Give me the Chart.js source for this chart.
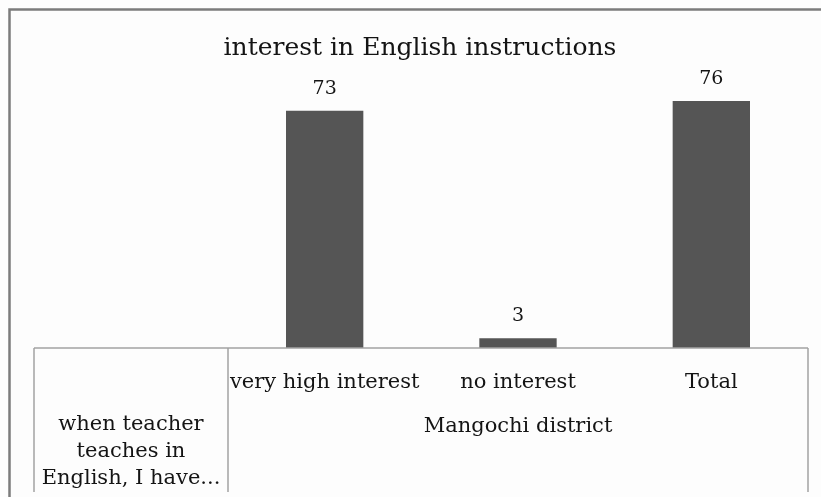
<!DOCTYPE html>
<html>
<head>
<meta charset="utf-8">
<script src="https://cdn.jsdelivr.net/npm/chart.js@4.4.0/dist/chart.umd.min.js"></script>
<style>
  html, body { margin: 0; padding: 0; background: #fff; overflow: hidden; }
  #wrap { width: 821px; height: 497px; }
</style>
</head>
<body>
<div id="wrap"><canvas id="grafico" width="821" height="497"></canvas></div>
<script>
// Datos del gráfico
const categorias = ['very high interest', 'no interest', 'Total'];
const valores = [73, 3, 76];
const titulo = 'interest in English instructions';
const grupo = 'Mangochi district';
const cabecera = ['when teacher', 'teaches in', 'English, I have...'];
const escalaY = [0, 80];

const fuente = '"DejaVu Serif", "Liberation Serif", serif';
const colorTexto = '#141414';

// Marco, tabla de abajo, título y etiquetas de valores
const marcoTabla = {
    id: 'marcoTabla',
    beforeDraw(chart) {
        const ctx = chart.ctx;
        ctx.save();
        ctx.fillStyle = '#fdfdfd';
        ctx.fillRect(0, 0, chart.width, chart.height);
        // borde exterior (se sale por la derecha y por abajo)
        ctx.strokeStyle = '#7c7c7c';
        ctx.lineWidth = 2.5;
        ctx.strokeRect(9.5, 9.5, chart.width + 20, chart.height + 20);
        // título
        ctx.fillStyle = colorTexto;
        ctx.font = '25px ' + fuente;
        ctx.textAlign = 'center';
        ctx.textBaseline = 'middle';
        ctx.fillText(titulo, 420, 48);
        ctx.restore();
    },
    afterDatasetsDraw(chart) {
        const ctx = chart.ctx;
        const meta = chart.getDatasetMeta(0);
        ctx.save();
        ctx.fillStyle = colorTexto;
        ctx.font = '19px ' + fuente;
        ctx.textAlign = 'center';
        ctx.textBaseline = 'middle';
        meta.data.forEach((bar, i) => {
            ctx.fillText(String(valores[i]), bar.x, bar.y - 22);
        });

        // líneas de la tabla
        const area = chart.chartArea;
        const izq = 34;
        const abajo = 492;
        ctx.strokeStyle = '#a2a2a2';
        ctx.lineWidth = 1.5;
        ctx.beginPath();
        ctx.moveTo(izq, area.bottom);
        ctx.lineTo(area.right, area.bottom);
        ctx.moveTo(izq, area.bottom);
        ctx.lineTo(izq, abajo);
        ctx.moveTo(area.left, area.bottom);
        ctx.lineTo(area.left, abajo);
        ctx.moveTo(area.right, area.bottom);
        ctx.lineTo(area.right, abajo);
        ctx.stroke();

        // celda de la izquierda
        const cx = (izq + area.left) / 2;
        ctx.font = '21px ' + fuente;
        cabecera.forEach((linea, i) => {
            ctx.fillText(linea, cx, 425 + i * 27);
        });
        ctx.restore();
    }
};

const ctx = document.getElementById('grafico');
new Chart(ctx, {
    type: 'bar',
    data: {
        labels: categorias,
        datasets: [{
            data: valores,
            backgroundColor: '#555555',
            borderWidth: 0,
            barPercentage: 0.4,
            categoryPercentage: 1
        }]
    },
    options: {
        responsive: false,
        animation: false,
        layout: {
            padding: { top: 88, left: 228, right: 13, bottom: 0 }
        },
        plugins: {
            legend: { display: false },
            title: { display: false },
            tooltip: { enabled: false }
        },
        scales: {
            y: {
                display: false,
                min: escalaY[0],
                max: escalaY[1]
            },
            x: {
                grid: { display: false, drawTicks: false },
                border: { display: false },
                ticks: {
                    color: colorTexto,
                    font: { family: fuente, size: 21 },
                    padding: 22,
                    maxRotation: 0,
                    autoSkip: false
                },
                title: {
                    display: true,
                    text: grupo,
                    color: colorTexto,
                    font: { family: fuente, size: 21 },
                    padding: { top: 0, bottom: 57.5 }
                },
                afterFit(scale) {
                    scale.height = 149;
                }
            }
        }
    },
    plugins: [marcoTabla]
});
</script>
</body>
</html>
